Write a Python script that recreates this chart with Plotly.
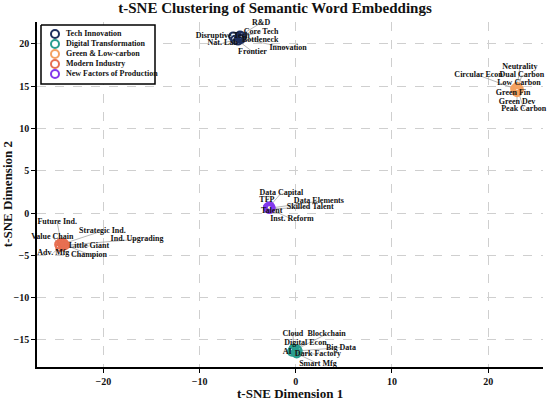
import plotly.graph_objects as go

# cluster names and colours
clusters = ["Tech Innovation", "Digital Transformation", "Green & Low-carbon",
            "Modern Industry", "New Factors of Production"]
colors = ["#1d2f5e", "#2a9d8f", "#f4a261", "#e76f51", "#8338ec"]

# words per cluster
words_tech = ["R&D", "Core Tech", "Disruptive Tech", "Bottleneck", "Nat. Lab", "Frontier", "Innovation"]
words_digital = ["Cloud", "Blockchain", "Digital Econ", "Big Data", "AI", "Dark Factory", "Smart Mfg"]
words_green = ["Neutrality", "Circular Econ", "Dual Carbon", "Low Carbon", "Green Fin", "Green Dev", "Peak Carbon"]
words_modern = ["Future Ind.", "Strategic Ind.", "Value Chain", "Ind. Upgrading", "Little Giant", "Adv. Mfg", "Champion"]
words_factors = ["Data Capital", "TFP", "Data Elements", "Skilled Talent", "Talent", "Inst. Reform"]

# embedding coordinates
x_tech = [-5.8, -5.6, -6.5, -5.7, -6.3, -6.0, -5.9]
y_tech = [21.0, 20.9, 20.9, 20.6, 20.5, 20.4, 20.7]
x_digital = [-0.2, 0.1, -0.3, 0.2, -0.4, 0.0, 0.1]
y_digital = [-16.0, -16.1, -16.2, -16.3, -16.4, -16.5, -16.6]
x_green = [23.0, 22.8, 23.1, 23.2, 22.9, 23.0, 23.1]
y_green = [14.9, 14.7, 14.8, 14.6, 14.4, 14.3, 14.5]
x_modern = [-24.4, -24.1, -24.6, -24.0, -24.2, -24.5, -24.3]
y_modern = [-3.5, -3.6, -3.7, -3.8, -3.9, -4.0, -3.6]
x_factors = [-2.7, -2.9, -2.6, -2.7, -2.9, -2.8]
y_factors = [0.8, 0.7, 0.6, 0.5, 0.6, 0.5]

# label positions (after overlap adjustment)
lx_tech = [-3.6, -3.6, -7.6, -3.7, -7.6, -4.5, -0.8]
ly_tech = [22.5, 21.4, 21.0, 20.5, 20.1, 19.1, 19.5]
lx_digital = [-0.3, 3.2, 1.0, 4.7, -0.9, 2.3, 2.3]
ly_digital = [-14.3, -14.3, -15.4, -15.9, -16.4, -16.7, -17.8]
lx_green = [23.3, 19.0, 23.5, 23.2, 22.6, 23.0, 23.7]
ly_green = [17.3, 16.3, 16.3, 15.4, 14.2, 13.1, 12.3]
lx_modern = [-24.8, -20.1, -25.3, -16.5, -21.5, -25.2, -21.5]
ly_modern = [-1.1, -2.1, -2.8, -3.1, -3.9, -4.7, -4.9]
lx_factors = [-1.5, -3.0, 2.4, 1.5, -2.5, -0.4]
ly_factors = [2.4, 1.5, 1.4, 0.7, 0.2, -0.7]

all_words = [words_tech, words_digital, words_green, words_modern, words_factors]
all_x = [x_tech, x_digital, x_green, x_modern, x_factors]
all_y = [y_tech, y_digital, y_green, y_modern, y_factors]
all_lx = [lx_tech, lx_digital, lx_green, lx_modern, lx_factors]
all_ly = [ly_tech, ly_digital, ly_green, ly_modern, ly_factors]

serif = "Liberation Serif"
ink = "#111111"

fig = go.Figure()

# leader lines from point to label
line_x, line_y = [], []
for xs, ys, lxs, lys in zip(all_x, all_y, all_lx, all_ly):
    for px, py, qx, qy in zip(xs, ys, lxs, lys):
        line_x += [px, qx, None]
        line_y += [py, qy, None]
fig.add_trace(go.Scatter(x=line_x, y=line_y, mode="lines",
                         line=dict(color="#9a9a9a", width=0.7),
                         showlegend=False, hoverinfo="skip"))

for name, color, xs, ys in zip(clusters, colors, all_x, all_y):
    fig.add_trace(go.Scatter(x=xs, y=ys, mode="markers", name=name, showlegend=False,
                             marker=dict(symbol="circle-open", size=8, color=color,
                                         line=dict(width=2, color=color))))

lab_x = sum(all_lx, [])
lab_y = sum(all_ly, [])
lab_t = sum(all_words, [])
fig.add_trace(go.Scatter(x=lab_x, y=lab_y, mode="text", text=lab_t, cliponaxis=False,
                         textfont=dict(family=serif, size=8, color=ink, weight="bold"),
                         showlegend=False, hoverinfo="skip"))

# hand-made legend on an overlay axis measured in pixels from the plot's top-left
leg_left, leg_top, leg_row, leg_w, leg_h = 4, 3, 10, 114, 59
box_x = [leg_left, leg_left + leg_w, leg_left + leg_w, leg_left, leg_left]
box_y = [leg_top, leg_top, leg_top + leg_h, leg_top + leg_h, leg_top]
fig.add_trace(go.Scatter(x=box_x, y=box_y, xaxis="x2", yaxis="y2", mode="lines",
                         fill="toself", fillcolor="white",
                         line=dict(color="black", width=1.5),
                         showlegend=False, hoverinfo="skip"))
leg_mx = [leg_left + 14] * len(clusters)
leg_my = [leg_top + 9 + i * leg_row for i in range(len(clusters))]
fig.add_trace(go.Scatter(x=leg_mx, y=leg_my, xaxis="x2", yaxis="y2", mode="markers",
                         marker=dict(symbol="circle-open", size=8, color=colors,
                                     line=dict(width=2, color=colors)),
                         showlegend=False, hoverinfo="skip"))
fig.add_trace(go.Scatter(x=[m + 11 for m in leg_mx], y=leg_my, xaxis="x2", yaxis="y2",
                         mode="text", text=clusters, textposition="middle right",
                         textfont=dict(family=serif, size=8, color=ink, weight="bold"),
                         showlegend=False, hoverinfo="skip"))

axis_common = dict(showline=True, linecolor="black", linewidth=1.5, mirror=False,
                   ticks="outside", ticklen=4, tickwidth=1, tickcolor="black",
                   showgrid=True, gridcolor="#cfcfcf", griddash="dash", gridwidth=0.8,
                   zeroline=False, automargin=False,
                   tickfont=dict(family=serif, size=10, color=ink, weight="bold"))

plot_w, plot_h = 506, 345

fig.update_layout(
    width=550, height=400,
    margin=dict(l=37, r=7, t=22, b=33),
    paper_bgcolor="white", plot_bgcolor="white",
    showlegend=False,
    title=dict(text="t-SNE Clustering of Semantic Word Embeddings", x=0.5, xanchor="center",
               y=0.995, yanchor="top",
               font=dict(family=serif, size=15, color=ink, weight="bold")),
    xaxis=dict(range=[-26.9, 25.7], tickvals=[-20, -10, 0, 10, 20],
               ticktext=["\u221220", "\u221210", "0", "10", "20"], **axis_common),
    yaxis=dict(range=[-18.2, 22.6], tickvals=[-15, -10, -5, 0, 5, 10, 15, 20],
               ticktext=["\u221215", "\u221210", "\u22125", "0", "5", "10", "15", "20"],
               **axis_common),
    xaxis2=dict(overlaying="x", range=[0, plot_w], visible=False, fixedrange=True),
    yaxis2=dict(overlaying="y", range=[plot_h, 0], visible=False, fixedrange=True),
    annotations=[
        dict(text="t-SNE Dimension 1", xref="paper", yref="paper", x=0.5, y=-0.048,
             xanchor="center", yanchor="top", showarrow=False,
             font=dict(family=serif, size=13, color=ink, weight="bold")),
        dict(text="t-SNE Dimension 2", xref="paper", yref="paper", x=-0.058, y=0.5,
             xanchor="center", yanchor="middle", textangle=-90, showarrow=False,
             font=dict(family=serif, size=13, color=ink, weight="bold")),
    ],
)

fig.write_html("out.html", config={"displayModeBar": False},
               post_script="document.body.style.margin='0px';")
